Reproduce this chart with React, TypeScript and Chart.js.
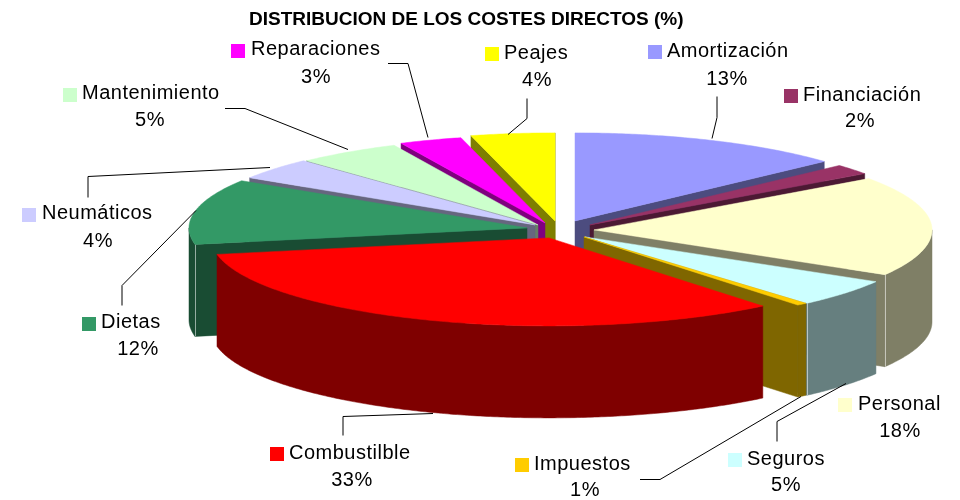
import React, { useEffect, useRef } from "react";
import { Chart, registerables } from "chart.js";

Chart.register(...registerables);

const title = "DISTRIBUCION DE LOS COSTES DIRECTOS (%)";
const categories = ["Amortización", "Financiación", "Personal", "Seguros", "Impuestos", "Combustilble", "Dietas", "Neumáticos", "Mantenimiento", "Reparaciones", "Peajes"];
const costShare = [13.2, 1.9, 18.4, 5.1, 0.5, 32.9, 12, 4, 5, 3, 4];
const sliceColors = ["#9999FF", "#993366", "#FFFFCC", "#CCFFFF", "#FFCC00", "#FF0000", "#339966", "#CCCCFF", "#CCFFCC", "#FF00FF", "#FFFF00"];

// Explosion of every slice on screen, in pixels
const explodeX = [10, 25, 29, 20, 19, -16, -38, -30, -27, -20, -10];
const explodeY = [-8, -4, 1, 8, 8, 9, -1, -4, -4, -6, -8];

// 3D look of the pie
const PIE_SHIFT_X = -39.5;
const RADIUS_X = 338;
const RADIUS_Y = 88;
const WALL = 92;

// Label layout: swatch left, swatch mid y, label left, label mid y, percent centre x, percent mid y
const labelLayout = [
  [648, 52, 667, 51, 727, 79],
  [784, 96, 803, 95, 860, 121],
  [838, 405, 858, 404, 900, 431],
  [728, 460, 747, 459, 786, 485],
  [515, 465, 534, 464, 585, 490],
  [270, 454, 289, 453, 352, 480],
  [82, 324, 101, 322, 138, 349],
  [22, 215, 42, 213, 98, 241],
  [63, 95, 82, 93, 150, 120],
  [231, 51, 251, 49, 316, 77],
  [485, 54, 504, 53, 537, 80],
];

const leaderLines = [
  [[717, 96], [717, 117], [712, 138]],
  [],
  [],
  [[777, 441], [777, 421], [846, 383]],
  [[640, 479], [660, 479], [801, 396]],
  [[343, 435], [343, 416], [433, 413]],
  [[122, 305], [122, 285], [196, 210]],
  [[88, 197], [88, 176], [270, 167]],
  [[225, 108], [245, 108], [348, 149]],
  [[388, 63], [408, 63], [428, 137]],
  [[527, 98], [527, 118], [508, 134]],
];

function halve(hex: string) {
  const n = parseInt(hex.slice(1), 16);
  return `rgb(${(n >> 16) >> 1},${((n >> 8) & 255) >> 1},${(n & 255) >> 1})`;
}

const pie3d = {
  id: "pie3d",
  beforeDatasetsDraw(chart: any) {
    const ctx = chart.ctx as CanvasRenderingContext2D;
    const arcs = chart.getDatasetMeta(0).data as any[];
    const order = arcs
      .map((arc, i) => ({ arc, i, depth: Math.sin((arc.startAngle + arc.endAngle) / 2) }))
      .sort((a, b) => a.depth - b.depth);
    for (const { arc, i } of order) {
      const ax = arc.x + PIE_SHIFT_X + explodeX[i];
      const ay = arc.y + explodeY[i];
      const pt = (a: number, z = 0): [number, number] => [ax + Math.cos(a) * RADIUS_X, ay + Math.sin(a) * RADIUS_Y + z];
      const fill = (pts: [number, number][], color: string) => {
        ctx.beginPath();
        pts.forEach((p, k) => (k ? ctx.lineTo(p[0], p[1]) : ctx.moveTo(p[0], p[1])));
        ctx.closePath();
        ctx.fillStyle = color;
        ctx.strokeStyle = color;
        ctx.lineWidth = 0.5;
        ctx.fill();
        ctx.stroke();
      };
      const { startAngle: s, endAngle: e } = arc;
      const wall = halve(sliceColors[i]);
      if (Math.cos(s) < 0) {
        fill([[ax, ay], pt(s), pt(s, WALL), [ax, ay + WALL]], wall);
      }
      if (Math.cos(e) > 0) {
        fill([[ax, ay], pt(e), pt(e, WALL), [ax, ay + WALL]], wall);
      }
      const from = Math.max(s, 0);
      const to = Math.min(e, Math.PI);
      if (to > from) {
        const rim: [number, number][] = [];
        const steps = Math.ceil((to - from) / 0.01);
        for (let k = 0; k <= steps; k++) rim.push(pt(from + ((to - from) * k) / steps));
        for (let k = steps; k >= 0; k--) rim.push(pt(from + ((to - from) * k) / steps, WALL));
        fill(rim, wall);
        // Light seam where a cut wall meets the rim of a large slice
        if (e - s > 0.2) {
          const seams: number[] = [];
          if (Math.cos(s) < 0 && s >= 0 && s <= Math.PI) seams.push(s);
          if (Math.cos(e) > 0 && e >= 0 && e <= Math.PI) seams.push(e);
          seams.forEach((a) => {
            const p = pt(a);
            ctx.beginPath();
            ctx.moveTo(Math.round(p[0]) + 0.5, p[1]);
            ctx.lineTo(Math.round(p[0]) + 0.5, p[1] + WALL);
            ctx.strokeStyle = "rgba(255,255,255,0.55)";
            ctx.lineWidth = 1;
            ctx.stroke();
          });
        }
      }
      const top: [number, number][] = [[ax, ay]];
      const n = Math.ceil((e - s) / 0.01);
      for (let k = 0; k <= n; k++) top.push(pt(s + ((e - s) * k) / n));
      fill(top, sliceColors[i]);
    }
    return false;
  },
  afterDraw(chart: any) {
    const ctx = chart.ctx as CanvasRenderingContext2D;
    const total = costShare.reduce((a, b) => a + b, 0);
    ctx.save();
    ctx.strokeStyle = "#000000";
    ctx.lineWidth = 1;
    leaderLines.forEach((line) => {
      if (!line.length) return;
      ctx.beginPath();
      line.forEach((p, k) => (k ? ctx.lineTo(p[0], p[1] + 0.5) : ctx.moveTo(p[0], p[1] + 0.5)));
      ctx.stroke();
    });
    ctx.font = "20px 'Liberation Sans'";
    (ctx as any).letterSpacing = "0.5px";
    ctx.textBaseline = "middle";
    categories.forEach((name, i) => {
      const [swatch, swatchY, left, y, pctX, pctY] = labelLayout[i];
      ctx.fillStyle = sliceColors[i];
      ctx.fillRect(swatch, swatchY - 7, 14, 14);
      ctx.fillStyle = "#000000";
      ctx.textAlign = "left";
      ctx.fillText(name, left, y);
      ctx.textAlign = "center";
      ctx.fillText(`${Math.round((costShare[i] / total) * 100)}%`, pctX, pctY);
    });
    ctx.restore();
  },
};

export default function App() {
  const ref = useRef<HTMLCanvasElement>(null);
  useEffect(() => {
    const chart = new Chart(ref.current!, {
      type: "pie",
      data: {
        labels: categories,
        datasets: [{ data: costShare, backgroundColor: sliceColors, borderWidth: 0 }],
      },
      options: {
        responsive: false,
        animation: false,
        layout: { padding: { left: 249, right: 0, top: 0, bottom: 75 } },
        plugins: {
          legend: { display: false },
          tooltip: { enabled: false },
          title: {
            display: true,
            text: title,
            color: "#000000",
            font: { family: "'Liberation Sans'", size: 19, weight: "bold" },
            padding: { top: 8, bottom: 2 },
            align: "start",
          },
        },
      },
      plugins: [pie3d],
    } as any);
    return () => chart.destroy();
  }, []);
  return (
    <div style={{ position: "fixed", left: 0, top: 0, width: 960, height: 500, background: "#fff" }}>
      <canvas ref={ref} width={960} height={500} style={{ display: "block" }} />
    </div>
  );
}
